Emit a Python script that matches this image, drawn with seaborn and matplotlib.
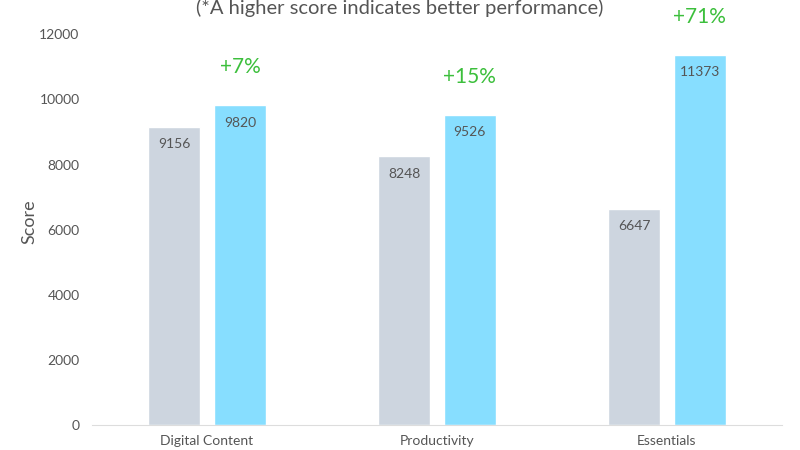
import pandas as pd
import matplotlib.pyplot as plt
import seaborn as sns

categories = ['Digital Content', 'Productivity', 'Essentials']
before_scores = [9156, 8248, 6647]
after_scores = [9820, 9526, 11373]
gains = ['+7%', '+15%', '+71%']

df = pd.DataFrame({
    'category': categories * 2,
    'score': before_scores + after_scores,
    'series': ['before'] * 3 + ['after'] * 3,
})

sns.set_style('white')
plt.rcParams['font.family'] = ['Lato', 'DejaVu Sans']

fig = plt.figure(figsize=(8, 4.5), dpi=100)
ax = fig.add_axes([0.115, 0.0556, 0.8625, 0.9044])

sns.barplot(
    data=df, x='category', y='score', hue='series',
    palette=['#CDD5DF', '#87DEFF'], saturation=1, width=0.572, gap=0.21,
    legend=False, ax=ax,
)

ax.set_xlim(-0.5, 2.5)
ax.set_ylim(0, 12500)
ax.set_yticks(range(0, 12001, 2000))
ax.set_xlabel('')
ax.set_ylabel('Score', fontsize=13, color='#555555', labelpad=1)
ax.tick_params(axis='both', length=0, colors='#555555', labelsize=10)
ax.tick_params(axis='y', pad=9)
ax.tick_params(axis='x', pad=7)
for side in ['top', 'right', 'left']:
    ax.spines[side].set_visible(False)
ax.spines['bottom'].set_color('#DDDDDD')

# value labels inside bars
for container in ax.containers:
    ax.bar_label(container, fmt='%d', padding=-17, fontsize=10, color='#555555')

# growth labels above the blue bars
blue_bars = ax.containers[1]
for bar, g in zip(blue_bars, gains):
    ax.annotate(g, (bar.get_x() + bar.get_width() / 2, bar.get_height()),
                xytext=(0, 20), textcoords='offset points', ha='center', va='bottom',
                fontsize=15, color='#3CBF3C')

fig.text(0.5, 1 - 8 / 450, '(*A higher score indicates better performance)',
         ha='center', va='center', fontsize=14.5, color='#555555')

fig.savefig('out.png', dpi=100)
